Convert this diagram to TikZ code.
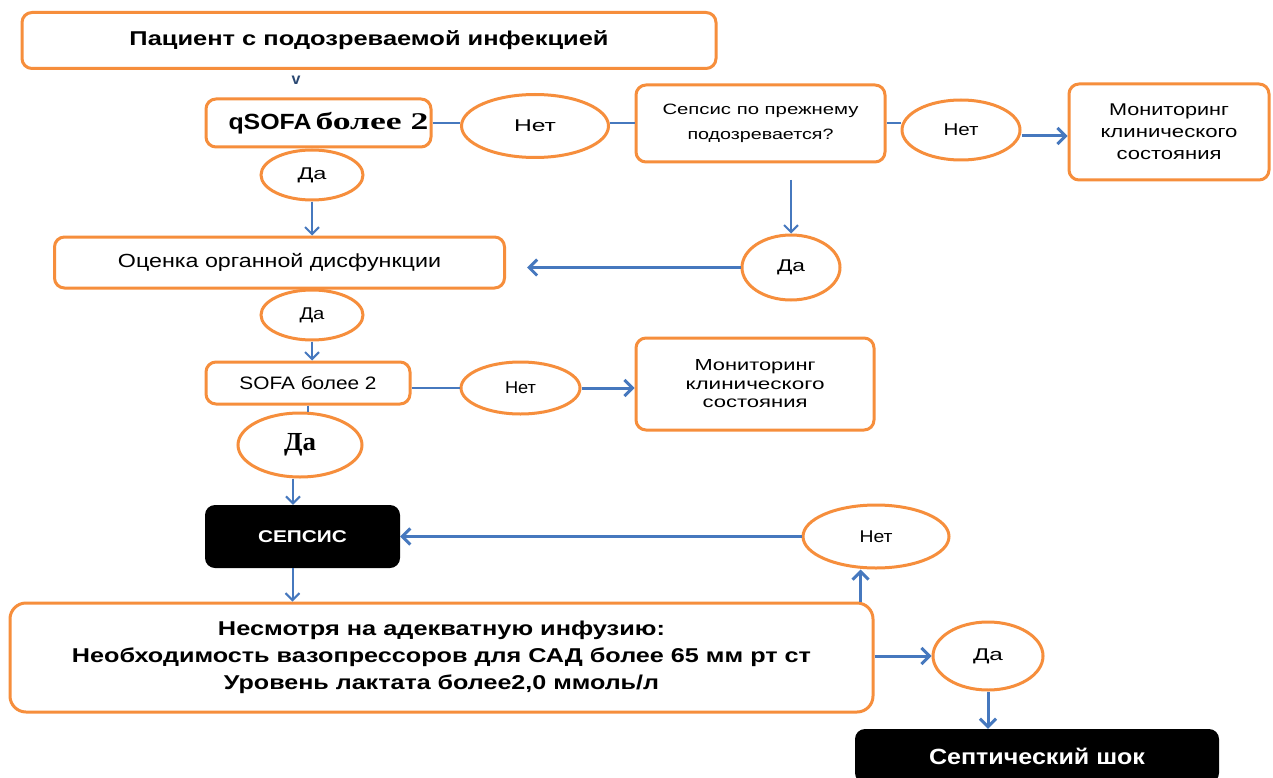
\documentclass[tikz,border=0pt]{standalone}
\usepackage{fontspec}
\setmainfont{Liberation Sans}
\newfontfamily\lserif{Liberation Serif}
\usepackage{graphicx}
\usetikzlibrary{shapes.geometric,arrows.meta}
\definecolor{orng}{RGB}{246,142,60}
\definecolor{blu}{RGB}{70,120,190}
\newcommand\tw[2]{\resizebox{#1pt}{\height}{#2}}
\newcommand\fs[2]{\fontsize{#1}{#2}\selectfont}
\begin{document}
\begin{tikzpicture}[x=1pt,y=-1pt,
  ob/.style={draw=orng, line width=3pt, rounded corners=10pt, fill=white, inner sep=0pt},
  el/.style={ellipse, draw=orng, line width=3pt, fill=white, inner sep=0pt, font=\fs{17}{20}},
  bb/.style={fill=black, rounded corners=10pt, text=white, inner sep=0pt},
  ln/.style={draw=blu, line width=2pt},
  ar/.style={draw=blu, line width=3pt, -{Straight Barb[length=8pt,width=16pt]}},
  arr/.style={draw=blu, line width=2pt, -{Straight Barb[length=7pt,width=14pt]}}]
\useasboundingbox (0,0) rectangle (1273,778);
\clip (0,0) rectangle (1273,778);
\fill[white] (0,0) rectangle (1273,778);

% nodes
\node[ob, minimum width=694pt, minimum height=56pt, font=\bfseries\fs{20}{24}] (top) at (369,40.5) {\tw{479}{Пациент с подозреваемой инфекцией}};
\node[text=blu!60!black, font=\bfseries\fs{16}{18}, inner sep=0pt] (vv) at (296,80) {v};
\node[ob, minimum width=225pt, minimum height=48pt] (q) at (318.5,123) {\hspace*{20pt}\tw{83}{\bfseries\fs{22}{26}qSOFA}\hspace{4pt}\tw{113}{\lserif\bfseries\fs{24}{28}более 2}};
\node[el, minimum width=147pt, minimum height=63pt] (n1) at (535,126) {\tw{42}{Нет}};
\node[ob, minimum width=249pt, minimum height=77pt, align=center, font=\fs{15}{25}] (s) at (760.5,123.5) {\tw{196}{Сепсис по прежнему}\\\tw{146}{подозревается?}};
\node[el, minimum width=118pt, minimum height=60pt] (n2) at (961,130) {\tw{35}{Нет}};
\node[ob, minimum width=200pt, minimum height=96pt, align=center, font=\fs{17}{22}] (m1) at (1169,132) {\tw{120}{Мониторинг}\\\tw{137}{клинического}\\\tw{105}{состояния}};
\node[el, minimum width=102pt, minimum height=50pt] (d1) at (312,175) {\tw{29}{Да}};
\node[ob, minimum width=450pt, minimum height=51pt, font=\fs{19}{22}] (o) at (279.5,262.5) {\tw{323}{Оценка органной дисфункции}};
\coordinate (sd) at (791,180);
\node[el, minimum width=98pt, minimum height=65pt] (d2) at (791,267.5) {\tw{28}{Да}};
\node[el, minimum width=102pt, minimum height=50pt] (d3) at (312,315) {\tw{25}{Да}};
\node[ob, minimum width=204pt, minimum height=42pt, font=\fs{18}{21}] (sofa) at (308,383) {\tw{137}{SOFA более 2}};
\node[el, minimum width=119pt, minimum height=52pt] (n3) at (520.5,388) {\tw{31}{Нет}};
\node[ob, minimum width=238pt, minimum height=92pt, align=center, font=\fs{16}{18.5}] (m2) at (755,384) {\tw{121}{Мониторинг}\\\tw{139}{клинического}\\\tw{105}{состояния}};
\node[el, minimum width=124pt, minimum height=64pt, font=\lserif\bfseries\fs{26}{30}] (d4) at (300,445) {\tw{32}{Да}};
\node[bb, minimum width=195pt, minimum height=63pt, font=\bfseries\fs{17}{20}] (sep) at (302.5,536.5) {\tw{89}{СЕПСИС}};
\node[el, minimum width=146pt, minimum height=63pt] (n4) at (876,536.5) {\tw{33}{Нет}};
\node[ob, rounded corners=16pt, minimum width=863pt, minimum height=109pt, align=center, font=\bfseries\fs{20}{27}] (big) at (441.5,657.5) {\tw{447}{Несмотря на адекватную инфузию:}\\\tw{739}{Необходимость вазопрессоров для САД более 65 мм рт ст}\\\tw{435}{Уровень лактата более2,0 ммоль/л}};
\node[el, minimum width=110pt, minimum height=68pt] (d5) at (988,656) {\tw{30}{Да}};
\node[bb, minimum width=364pt, minimum height=54pt, font=\bfseries\fs{22}{26}] (shock) at (1037,756) {\tw{216}{Септический шок}};

% connectors
\draw[ln] (q.east) -- (q.east -| n1.west);
\draw[ln] (n1.east |- q.east) -- (s.west |- q.east);
\draw[ln] (s.east |- q.east) -- (q.east -| n2.west);
\draw[ar] ([yshift=-6pt]n2.east) -- ([yshift=-6pt]n2.east -| m1.west);
\draw[arr] (d1.south) -- (d1.south |- o.north);
\draw[arr] (sd) -- (d2.north);
\draw[ar, shorten >=21pt] (d2.west) -- (d2.west -| o.east);
\draw[arr] (d3.south) -- (d3.south |- sofa.north);
\draw[ln] (sofa.east |- n3.west) -- (n3.west);
\draw[ar] (n3.east) -- (n3.east -| m2.west);
\draw[ln] (sofa.south) -- (sofa.south |- d4.north);
\draw[arr] ([xshift=-7pt]d4.south) -- ([xshift=-7pt]d4.south |- sep.north);
\draw[ar] (n4.west) -- (n4.west -| sep.east);
\draw[arr] ([xshift=-10pt]sep.south) -- ([xshift=-10pt]sep.south |- big.north);
\draw[ar] ([xshift=-14pt]big.north east) -- ([xshift=-14pt]big.north east |- n4.south);
\draw[ar] (big.east |- d5.west) -- (d5.west);
\draw[ar] (d5.south) -- (d5.south |- shock.north);
\end{tikzpicture}
\end{document}
